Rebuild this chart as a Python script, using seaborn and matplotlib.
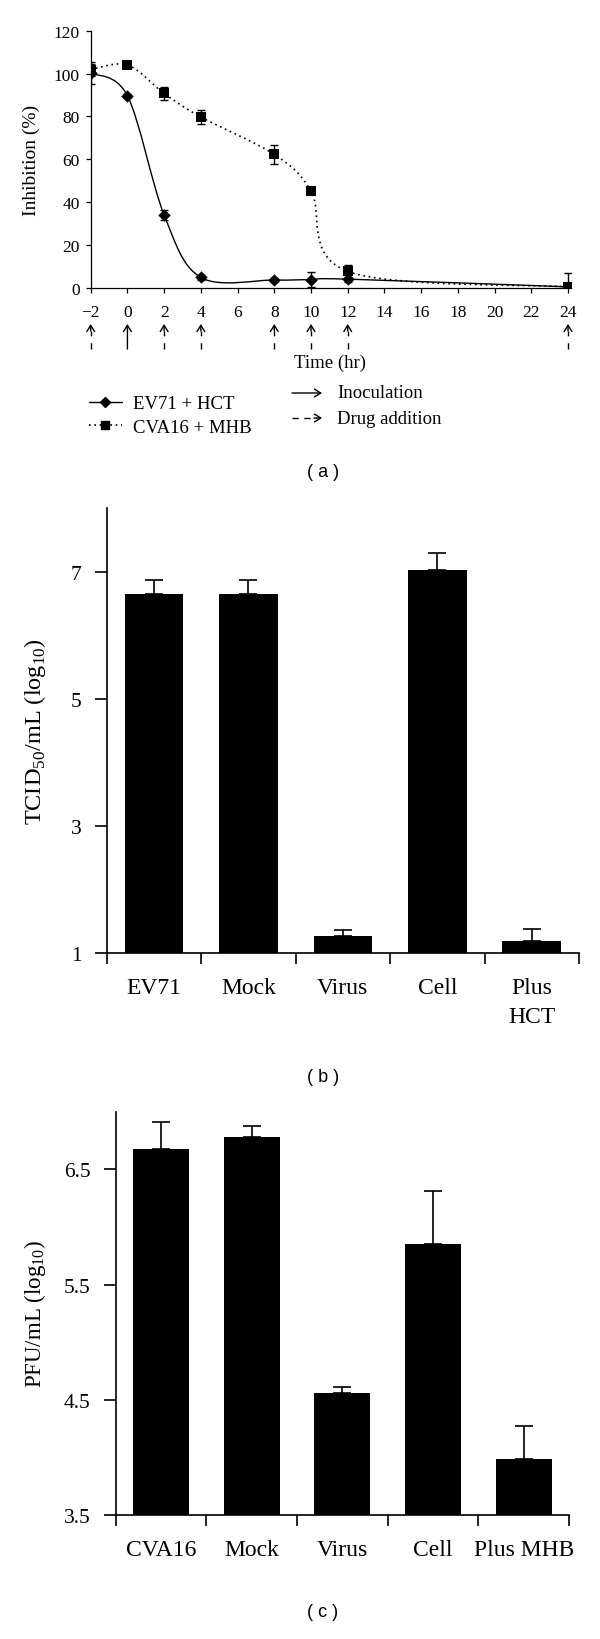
import numpy as np
import pandas as pd
import matplotlib
matplotlib.use("Agg")
import matplotlib.pyplot as plt
import seaborn as sns
from matplotlib.path import Path
from matplotlib.patches import PathPatch, FancyArrowPatch
from matplotlib.lines import Line2D

# ---------------- data ----------------
# Panel (a): time-of-addition assay
time_hr = [-2, 0, 2, 4, 8, 10, 12, 24]
ev71_hct = [100.2, 89.6, 33.9, 4.8, 3.6, 3.8, 4.0, 0.4]
ev71_err = [5.0, 0.8, 2.5, 1.0, 1.0, 3.4, 1.2, 6.5]
cva16_mhb = [101.8, 104.0, 90.7, 79.7, 62.2, 45.2, 7.6, 0.4]
cva16_err = [2.8, 1.0, 3.0, 3.3, 4.6, 0.6, 3.0, 0.6]
arrow_kind = ["drug", "inoc", "drug", "drug", "drug", "drug", "drug", "drug"]
x_ticks_a = list(range(-2, 25, 2))
y_ticks_a = [0, 20, 40, 60, 80, 100, 120]

# Panel (b)
cats_b = ["EV71", "Mock", "Virus", "Cell", "Plus\nHCT"]
tcid50 = [6.65, 6.65, 1.27, 7.03, 1.19]
tcid50_err = [0.22, 0.22, 0.09, 0.26, 0.18]
y_ticks_b = [1, 3, 5, 7]

# Panel (c)
cats_c = ["CVA16", "Mock", "Virus", "Cell", "Plus MHB"]
pfu = [6.68, 6.78, 4.56, 5.85, 3.99]
pfu_err = [0.23, 0.10, 0.05, 0.46, 0.28]
y_ticks_c = [3.5, 4.5, 5.5, 6.5]

# ---------------- style ----------------
sns.set_style("ticks")
plt.rcParams["font.family"] = ["Liberation Serif", "DejaVu Serif"]
plt.rcParams["axes.linewidth"] = 0.9
plt.rcParams["axes.edgecolor"] = "black"
plt.rcParams["xtick.color"] = "black"
plt.rcParams["ytick.color"] = "black"
plt.rcParams["text.color"] = "black"
plt.rcParams["axes.labelcolor"] = "black"

W, H = 600, 1640
fig = plt.figure(figsize=(W / 100, H / 100), dpi=100)
SANS = ["Liberation Sans", "DejaVu Sans"]
ARROW = "->,head_length=0.45,head_width=0.28"


def ax_rect(left, right, top, bottom):
    return [left / W, 1 - bottom / H, (right - left) / W, (bottom - top) / H]


def smooth_path(xs, ys):
    P = np.column_stack([xs, ys]).astype(float)
    n = len(P)
    verts = [P[0]]
    codes = [Path.MOVETO]
    for i in range(n - 1):
        p0 = P[i - 1] if i > 0 else P[i]
        p1, p2 = P[i], P[i + 1]
        p3 = P[i + 2] if i + 2 < n else P[i + 1]
        c1 = p1 + (p2 - p0) / 6.0
        c2 = p2 - (p3 - p1) / 6.0
        verts += [c1, c2, p2]
        codes += [Path.CURVE4] * 3
    return Path(verts, codes)


# ---------------- panel (a) ----------------
axa = fig.add_axes(ax_rect(90.7, 570.8, 31.7, 288.7))
axa.add_patch(PathPatch(smooth_path(time_hr, ev71_hct), fill=False,
                        edgecolor="black", lw=1.0, ls="-", zorder=2))
axa.add_patch(PathPatch(smooth_path(time_hr, cva16_mhb), fill=False,
                        edgecolor="black", lw=1.2, ls=(0, (1, 2.2)), zorder=2))
axa.errorbar(time_hr, ev71_hct, yerr=ev71_err, fmt="none", ecolor="black",
             elinewidth=1.0, capsize=3.2, capthick=1.0, zorder=3)
axa.errorbar(time_hr, cva16_mhb, yerr=cva16_err, fmt="none", ecolor="black",
             elinewidth=1.0, capsize=3.2, capthick=1.0, zorder=3)
sns.scatterplot(x=time_hr, y=cva16_mhb, marker="s", s=50, color="black",
                edgecolor="black", linewidth=0, ax=axa, zorder=4)
sns.scatterplot(x=time_hr, y=ev71_hct, marker="D", s=40, color="black",
                edgecolor="black", linewidth=0, ax=axa, zorder=5)
axa.set_xlim(-2, 24.15)
axa.set_ylim(0, 120)
axa.set_xticks(x_ticks_a)
axa.set_xticklabels([("\u2212" + str(-t)) if t < 0 else str(t) for t in x_ticks_a])
axa.set_yticks(y_ticks_a)
axa.tick_params(axis="x", length=3.5, width=0.9, pad=8, labelsize=12.5, direction="out")
axa.tick_params(axis="y", length=3.5, width=0.9, pad=4.5, labelsize=12.5, direction="out")
axa.set_ylabel("Inhibition (%)", fontsize=14, va="center")
axa.yaxis.set_label_coords((31.7 - 90.7) / 480.1, 0.5)
axa.set_xlabel("Time (hr)", fontsize=13.5, va="center")
axa.xaxis.set_label_coords((330 - 90.7) / 480.1, (288.7 - 363) / 257)
sns.despine(ax=axa)

# arrows below the time axis
tr = axa.get_xaxis_transform()
y_tail = (288.7 - 350) / 257
y_head = (288.7 - 325) / 257
y_headbase = (288.7 - 332) / 257
for t, kind in zip(time_hr, arrow_kind):
    if kind == "inoc":
        axa.annotate("", xy=(t, y_head), xytext=(t, y_tail), xycoords=tr,
                     textcoords=tr, annotation_clip=False,
                     arrowprops=dict(arrowstyle=ARROW, lw=1.0, color="black",
                                     shrinkA=0, shrinkB=0))
    else:
        axa.plot([t, t], [y_tail, y_headbase], transform=tr, clip_on=False,
                 color="black", lw=1.0, ls=(0, (4.5, 5)))
        axa.annotate("", xy=(t, y_head), xytext=(t, y_headbase), xycoords=tr,
                     textcoords=tr, annotation_clip=False,
                     arrowprops=dict(arrowstyle=ARROW, lw=1.0, color="black",
                                     shrinkA=0, shrinkB=0))

# legends
handles = [Line2D([], [], color="black", lw=1.0, ls="-", marker="D", ms=5.6),
           Line2D([], [], color="black", lw=1.2, ls=(0, (1, 2.2)), marker="s", ms=6.4)]
fig.legend(handles, ["EV71 + HCT", "CVA16 + MHB"], loc="upper left",
           bbox_to_anchor=(89 / W, 1 - 396 / H), frameon=False, fontsize=13.5,
           handlelength=1.75, handletextpad=0.6, labelspacing=0.36,
           borderpad=0, borderaxespad=0)
for yy, style, lbl in [(394, "-", "Inoculation"), (419, "dash", "Drug addition")]:
    fy = H - yy
    if style == "-":
        fig.add_artist(FancyArrowPatch((292, fy), (322, fy), transform=None,
                                       arrowstyle=ARROW, mutation_scale=10,
                                       lw=1.0, color="black", shrinkA=0, shrinkB=0))
    else:
        fig.add_artist(Line2D([292, 316], [fy, fy], transform=None, color="black",
                              lw=1.0, ls=(0, (4.5, 4))))
        fig.add_artist(FancyArrowPatch((314, fy), (322, fy), transform=None,
                                       arrowstyle=ARROW, mutation_scale=10,
                                       lw=1.0, color="black", shrinkA=0, shrinkB=0))
    fig.text(337 / W, 1 - yy / H, lbl, fontsize=13.5, ha="left", va="center")

fig.text(323 / W, 1 - 473 / H, "( a )", family=SANS, fontsize=13,
         ha="center", va="center")


# ---------------- bar panels ----------------
def bar_panel(rect, cats, vals, errs, yticks, ylim, ylabel, ylabel_size, ylabel_x, yfmt):
    ax = fig.add_axes(rect)
    df = pd.DataFrame({"group": cats, "value": vals})
    sns.barplot(data=df, x="group", y="value", color="black", saturation=1,
                width=0.62, errorbar=None, edgecolor="black", linewidth=0, ax=ax)
    ax.errorbar(np.arange(len(cats)), vals, yerr=[np.zeros(len(cats)), errs],
                fmt="none", ecolor="black", elinewidth=1.2, capsize=6.7,
                capthick=1.2, zorder=1)
    ax.set_xlim(-0.5, len(cats) - 0.5)
    ax.set_ylim(*ylim)
    ax.set_xticks(np.arange(-0.5, len(cats), 1.0))
    ax.set_xticklabels([])
    ax.set_xticks(np.arange(len(cats)), minor=True)
    ax.set_xticklabels(cats, minor=True, fontsize=17, linespacing=1.5)
    ax.set_yticks(yticks)
    ax.set_yticklabels([yfmt.format(v) for v in yticks])
    ax.tick_params(axis="x", which="major", length=8, width=1.2, direction="out")
    ax.tick_params(axis="x", which="minor", length=0, pad=17)
    ax.tick_params(axis="y", length=8.5, width=1.2, pad=9.5, labelsize=15.5,
                   direction="out")
    for s in ("left", "bottom"):
        ax.spines[s].set_linewidth(1.2)
    ax.set_xlabel("")
    ax.set_ylabel(ylabel, fontsize=ylabel_size, va="center")
    ax.yaxis.set_label_coords(ylabel_x, 0.5)
    sns.despine(ax=ax)
    return ax


bar_panel(ax_rect(106.7, 579, 509.3, 954), cats_b, tcid50, tcid50_err, y_ticks_b,
          (1, 8), r"TCID$_{\mathregular{50}}$/mL (log$_{\mathregular{10}}$)", 17.5,
          (35 - 106.7) / 472.3, "{:g}")
fig.text(323 / W, 1 - 1078 / H, "( b )", family=SANS, fontsize=13,
         ha="center", va="center")

bar_panel(ax_rect(115.7, 569, 1112.7, 1516), cats_c, pfu, pfu_err, y_ticks_c,
          (3.5, 7.0), r"PFU/mL (log$_{\mathregular{10}}$)", 16.5,
          (35 - 115.7) / 453.3, "{:.1f}")
fig.text(323 / W, 1 - 1613 / H, "( c )", family=SANS, fontsize=13,
         ha="center", va="center")

fig.savefig("out.png", dpi=100)
